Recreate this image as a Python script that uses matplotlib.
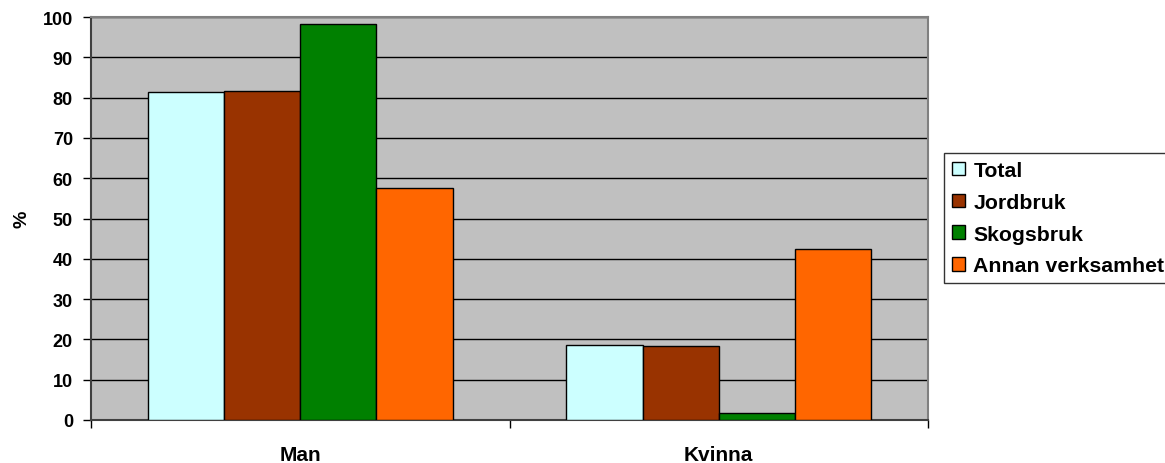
import numpy as np
import matplotlib.pyplot as plt

# Data
kategorier = ['Man', 'Kvinna']
serier = ['Total', 'Jordbruk', 'Skogsbruk', 'Annan verksamhet']
total = [81.4, 18.6]
jordbruk = [81.7, 18.3]
skogsbruk = [98.3, 1.7]
annan = [57.6, 42.4]
farger = ['#CCFFFF', '#993300', '#008000', '#FF6600']

plt.rcParams['font.family'] = ['Liberation Sans', 'DejaVu Sans']
plt.rcParams['font.weight'] = 'bold'

fig = plt.figure(figsize=(11.65, 4.64), dpi=100)
ax = fig.add_axes([0.0781, 0.0927, 0.7185, 0.8683])
ax.set_facecolor('#C0C0C0')

x = np.arange(len(kategorier))
bredd = 0.182
varden = [total, jordbruk, skogsbruk, annan]
for i, (namn, v, f) in enumerate(zip(serier, varden, farger)):
    ax.bar(x + (i - 1.5) * bredd, v, bredd, color=f, edgecolor='black',
           linewidth=1, label=namn, zorder=3)

ax.set_xlim(-0.5, 1.5)
ax.set_ylim(0, 100)
ax.set_yticks(np.arange(0, 101, 10))
ax.yaxis.grid(True, color='black', linewidth=1, zorder=1)
ax.set_axisbelow(True)

ax.set_xticks(x)
ax.set_xticklabels(kategorier, fontsize=15, fontweight='bold')
ax.set_xticks([-0.5, 0.5, 1.5], minor=True)
ax.tick_params(axis='x', which='major', length=0, pad=18)
ax.tick_params(axis='x', which='minor', length=6, width=1, color='black')
ax.tick_params(axis='y', length=6, width=1, labelsize=13, color='black', pad=7)
for lbl in ax.get_yticklabels():
    lbl.set_fontweight('bold')

ax.set_ylabel('%', fontsize=14, fontweight='bold', labelpad=9)

for s in ['top', 'right']:
    ax.spines[s].set_color('#808080')
    ax.spines[s].set_linewidth(1.5)
for s in ['left', 'bottom']:
    ax.spines[s].set_color('#404040')
    ax.spines[s].set_linewidth(1.5)

leg = fig.legend(loc='upper left', bbox_to_anchor=(0.8103, 0.668), fontsize=15.3,
                 frameon=True, fancybox=False, edgecolor='black',
                 handlelength=0.6, handleheight=0.6, handletextpad=0.4,
                 labelspacing=0.6, borderpad=0.38, borderaxespad=0)
leg.get_frame().set_linewidth(1)
for t in leg.get_texts():
    t.set_fontweight('bold')

fig.savefig('out.png', dpi=100)
